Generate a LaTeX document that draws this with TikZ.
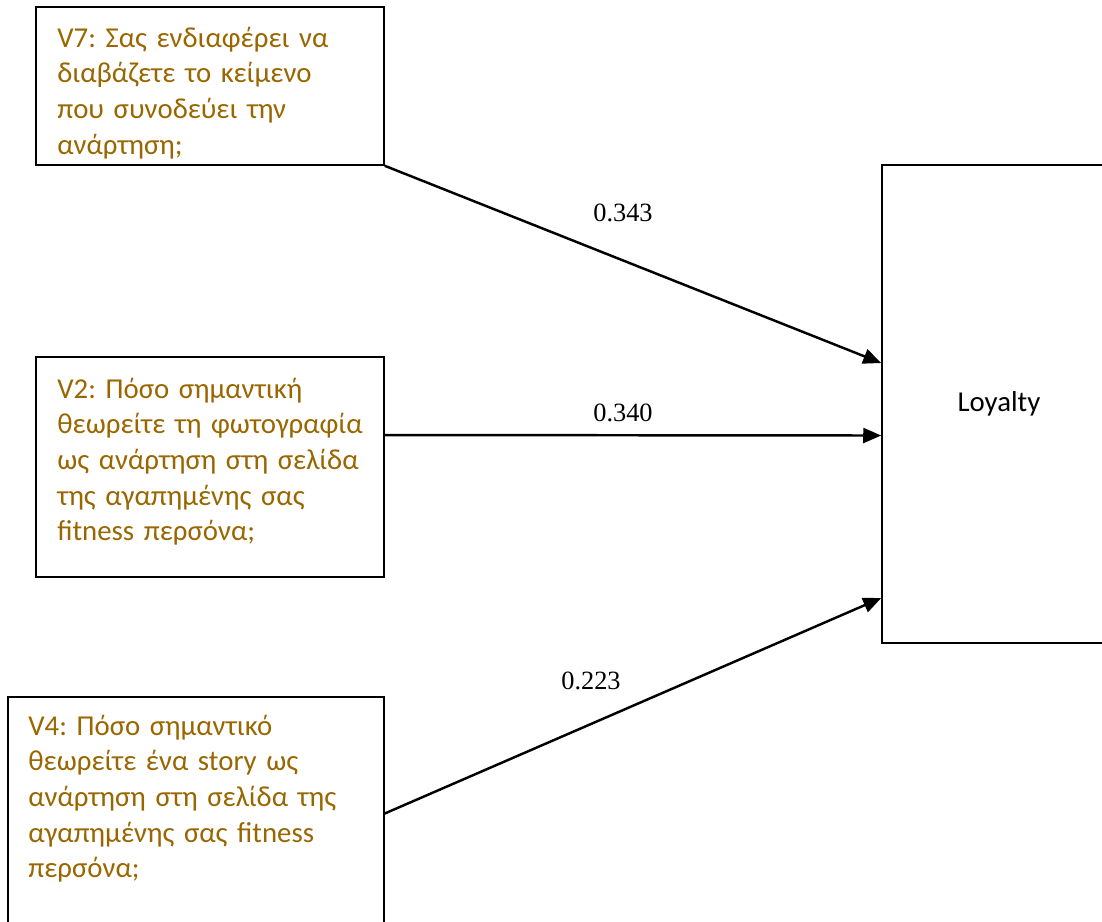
\documentclass[tikz,border=0pt]{standalone}
\usepackage{fontspec}
\setmainfont{Carlito}
\newfontfamily\numfont{Liberation Serif}
\usetikzlibrary{arrows.meta}
\definecolor{itembrown}{RGB}{153,102,0}
\frenchspacing

\begin{document}
\begin{tikzpicture}[x=0.02cm, y=-0.02cm,
  itembox/.style={draw, line width=0.9pt, inner sep=0pt},
  item/.style={anchor=base west, inner sep=0pt, text width=7cm, align=left,
    text=itembrown, font=\fontsize{16.4}{20.3}\selectfont},
  coef/.style={anchor=base, inner sep=0pt, font=\numfont\fontsize{15}{17}\selectfont},
  link/.style={line width=1.4pt, -{Triangle[length=0.36cm,width=0.3cm]}}]
\useasboundingbox (0,0) rectangle (1102,921);

% boxes
\node[itembox, minimum width=6.96cm, minimum height=3.16cm] (v7) at (210,86) {};
\node[itembox, minimum width=6.96cm, minimum height=4.4cm] (v2) at (210,467) {};
\node[itembox, minimum width=7.52cm, minimum height=4.66cm] (v4) at (196,813.5) {};
\node[itembox, minimum width=4.68cm, minimum height=9.56cm,
  font=\fontsize{16.4}{20}\selectfont] (loy) at (999,404) {Loyalty};

% item texts
\begin{scope}
  \clip (v7.north west) rectangle (v7.south east);
  \node[item] (v7txt) at (57,47) {V7: Σας ενδιαφέρει να\\διαβάζετε το κείμενο\\που συνοδεύει την\\ανάρτηση;};
\end{scope}
\node[item] (v2txt) at (57,398) {V2: Πόσο σημαντική\\θεωρείτε τη φωτογραφία\\ως ανάρτηση στη σελίδα\\της αγαπημένης σας\\fitness περσόνα;};
\node[item] (v4txt) at (28,735) {V4: Πόσο σημαντικό\\θεωρείτε ένα story ως\\ανάρτηση στη σελίδα της\\αγαπημένης σας fitness\\περσόνα;};

% paths
\draw[link] (v7.south east) -- ([yshift=0.82cm]loy.west);
\draw[link] ([yshift=0.64cm]v2.east) -- ([yshift=-0.63cm]loy.west);
\draw[link] (v4.east) -- ([yshift=-3.88cm]loy.west);

\node[coef] (c7) at (623,221) {0.343};
\node[coef] (c2) at (623,421) {0.340};
\node[coef] (c4) at (591,689) {0.223};
\end{tikzpicture}
\end{document}
